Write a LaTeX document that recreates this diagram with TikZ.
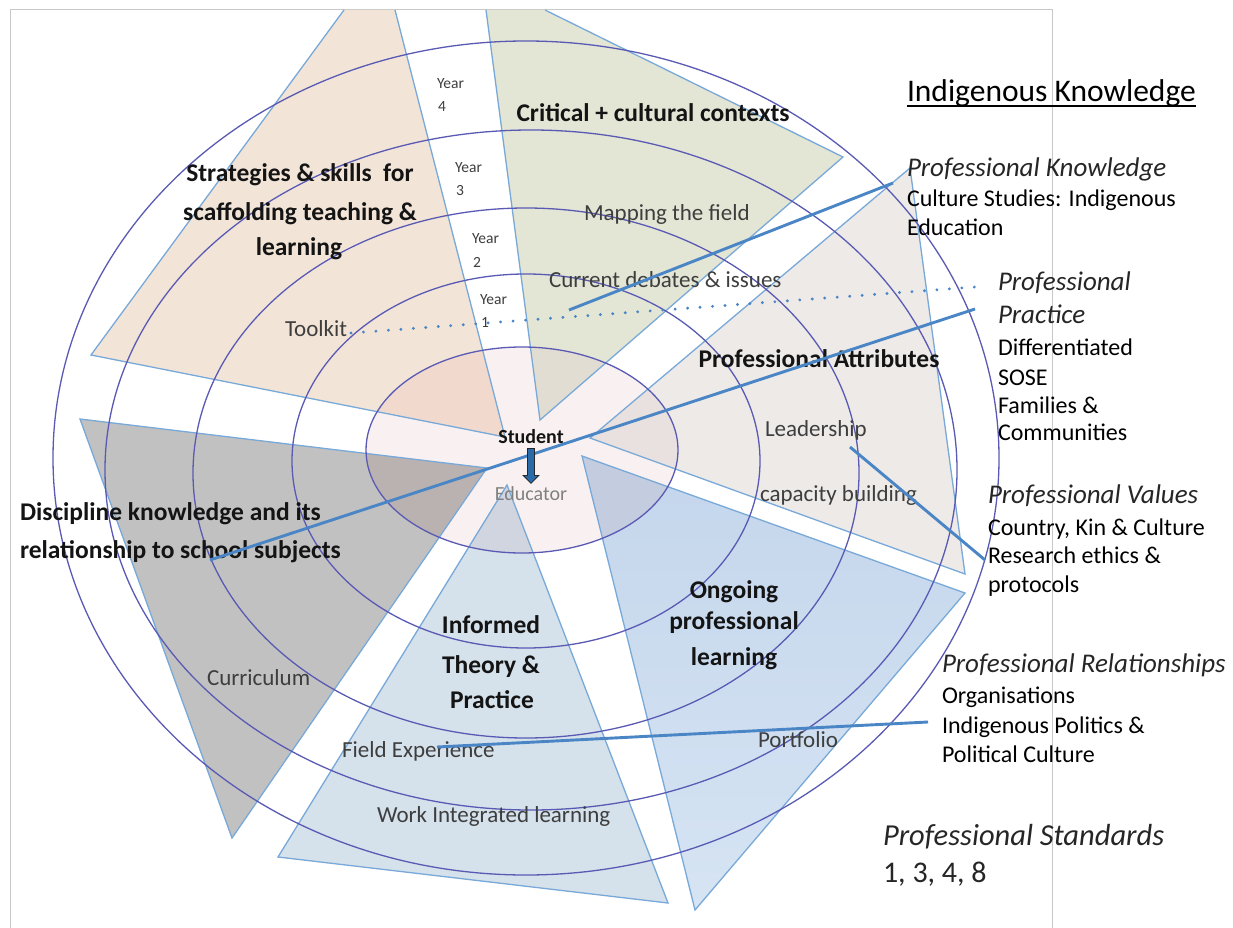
\documentclass[tikz,border=0pt]{standalone}
\usepackage{fontspec}
\setmainfont{Carlito}
\usetikzlibrary{arrows.meta}
\definecolor{framecol}{HTML}{C8C8C8}
\definecolor{ringcol}{HTML}{5A5AB4}
\definecolor{edgecol}{HTML}{78A9D8}
\definecolor{connblue}{HTML}{4A86C5}
\definecolor{arrowblue}{HTML}{2A6AA8}
\definecolor{titlecol}{HTML}{141414}
\definecolor{labcol}{HTML}{3E3E3E}
\definecolor{educol}{HTML}{808080}
\definecolor{cbeige}{HTML}{F2E5D8}
\definecolor{cgreen}{HTML}{E3E5D5}
\definecolor{cattr}{HTML}{EDEAE8}
\definecolor{cdisc}{HTML}{C1C1C1}
\definecolor{cinf}{HTML}{D5E1EB}
\definecolor{congotop}{HTML}{C4D6EC}
\definecolor{congobot}{HTML}{D6E4F3}
\definecolor{cpink}{HTML}{F9F1F1}
\definecolor{ibeige}{HTML}{F1DACD}
\definecolor{igreen}{HTML}{E2DDD2}
\definecolor{iattr}{HTML}{E8E1DF}
\definecolor{idisc}{HTML}{BAB2B0}
\definecolor{iinf}{HTML}{D0D5DF}
\definecolor{iongo}{HTML}{C4CCDF}
\begin{document}
\begin{tikzpicture}[x=1pt,y=-1pt,
  txt/.style={inner sep=0pt, outer sep=0pt},
  title/.style={txt, font=\fontsize{25.5}{30}\selectfont\bfseries, text=titlecol, anchor=base},
  lab/.style={txt, font=\fontsize{23}{28}\selectfont, text=labcol, anchor=base west},
  yearlab/.style={txt, font=\fontsize{15.5}{18}\selectfont, text=labcol, anchor=base west},
  side/.style={txt, font=\fontsize{24}{29}\selectfont, text=black, anchor=base west},
  sidei/.style={txt, font=\fontsize{27}{30}\selectfont\itshape, text=black!85, anchor=base west},
  wedge/.style={draw=edgecol, line width=1.3pt, line join=miter},
  ring/.style={draw=ringcol, line width=1.3pt},
  conn/.style={draw=connblue, line width=2.9pt},
  dotconn/.style={draw=connblue, line width=3.2pt, line cap=round, dash pattern=on 0pt off 12.5pt},
]
\useasboundingbox (0,0) rectangle (1233,928);
\fill[white] (0,0) rectangle (1233,928);
% frame
\draw[framecol, line width=1pt] (10,940) -- (10,10) -- (1052,10) -- (1052,940);

% wedges
\fill[cbeige] (344,10) -- (91,355) -- (505,437) -- (395,10) -- cycle;
\fill[cgreen] (486,10) -- (540,420) -- (843,157) -- (545,10) -- cycle;
\fill[cattr] (590,438) -- (910,168) -- (965,574) -- cycle;
\fill[cdisc] (80,419) -- (487,468) -- (232,838) -- cycle;
\fill[cinf] (507,485) -- (278,857) -- (668,903) -- cycle;
\shade[top color=congotop, bottom color=congobot] (582,456) -- (965,593) -- (695,910) -- cycle;

% inner ellipse tint
\fill[cpink] (522,450) ellipse [x radius=156, y radius=103];
\begin{scope}
  \clip (522,450) ellipse [x radius=156, y radius=103];
  \fill[ibeige] (344,10) -- (91,355) -- (505,437) -- (395,10) -- cycle;
  \fill[igreen] (486,10) -- (540,420) -- (843,157) -- (545,10) -- cycle;
  \fill[iattr] (590,438) -- (910,168) -- (965,574) -- cycle;
  \fill[idisc] (80,419) -- (487,468) -- (232,838) -- cycle;
  \fill[iinf] (507,485) -- (278,857) -- (668,903) -- cycle;
  \fill[iongo] (582,456) -- (965,593) -- (695,910) -- cycle;
\end{scope}

% wedge outlines
\draw[wedge] (344,10) -- (91,355) -- (505,437) -- (395,10);
\draw[wedge] (486,10) -- (540,420) -- (843,157) -- (545,10);
\draw[wedge] (590,438) -- (910,168) -- (965,574) -- cycle;
\draw[wedge] (80,419) -- (487,468) -- (232,838) -- cycle;
\draw[wedge] (507,485) -- (278,857) -- (668,903) -- cycle;
\draw[wedge] (582,456) -- (965,593) -- (695,910) -- cycle;

% rings
\path[ring] (522,450) ellipse [x radius=156, y radius=103];
\path[ring] (526,461) ellipse [x radius=234, y radius=187];
\path[ring] (526,473) ellipse [x radius=333, y radius=265];
\path[ring] (531,470) ellipse [x radius=426, y radius=340];
\path[ring] (526,458) ellipse [x radius=473, y radius=417];

% wedge titles
\node[title] (crit) at (653,122) {Critical + cultural contexts};
\node[title] (strat1) at (300,182) {Strategies \& skills\ \ for};
\node[title] (strat2) at (300,220) {scaffolding teaching \&};
\node[title] (strat3) at (299,255) {learning};
\node[title] (attr) at (819,367) {Professional Attributes};
\node[title, anchor=base west] (disc1) at (20,520) {Discipline knowledge and its};
\node[title, anchor=base west] (disc2) at (20,558) {relationship to school subjects};
\node[title] (inf1) at (491,633) {Informed};
\node[title] (inf2) at (491,673) {Theory \&};
\node[title] (inf3) at (492,708) {Practice};
\node[title] (ong1) at (734,598) {Ongoing};
\node[title] (ong2) at (734,629) {professional};
\node[title] (ong3) at (734,665) {learning};
\node[txt, font=\fontsize{20}{24}\selectfont\bfseries, text=titlecol, anchor=base] (student) at (531,443) {Student};
\node[txt, font=\fontsize{20}{24}\selectfont, text=educol, anchor=base] (educator) at (531,500) {Educator};

% sub labels
\node[lab] (map) at (584,220) {Mapping the field};
\node[lab] (cur) at (549,287) {Current debates \& issues};
\node[lab] (tool) at (285,336) {Toolkit};
\node[lab] (lead) at (765,436) {Leadership};
\node[lab] (cap) at (760,501) {capacity building};
\node[lab] (curr) at (207,685) {Curriculum};
\node[lab] (field) at (342,757) {Field Experience};
\node[lab] (work) at (377,822) {Work Integrated learning};
\node[lab] (port) at (758,747) {Portfolio};

% years
\node[yearlab] (y4a) at (437,89) {Year};
\node[yearlab] (y4b) at (438,112) {4};
\node[yearlab] (y3a) at (455,172) {Year};
\node[yearlab] (y3b) at (456,195) {3};
\node[yearlab] (y2a) at (472,243) {Year};
\node[yearlab] (y2b) at (473,267) {2};
\node[yearlab] (y1a) at (480,304) {Year};
\node[yearlab] (y1b) at (481,327) {1};

% right side
\node[txt, font=\fontsize{31.5}{36}\selectfont, anchor=base west] (ik) at (907,102) {Indigenous Knowledge};
\draw[black, line width=1.4pt] ([yshift=-4pt]ik.base west) -- ([yshift=-4pt]ik.base east);
\node[sidei] (pk1) at (907,177) {Professional Knowledge};
\node[side] (pk2) at (907,207) {Culture Studies: Indigenous};
\node[side] (pk3) at (907,235) {Education};
\node[sidei] (pp1) at (998,290) {Professional};
\node[sidei] (pp2) at (998,323) {Practice};
\node[side] (pp3) at (998,355) {Differentiated};
\node[side] (pp4) at (998,385) {SOSE};
\node[side] (pp5) at (998,413) {Families \&};
\node[side] (pp6) at (998,440) {Communities};
\node[sidei] (pv1) at (988,503) {Professional Values};
\node[side] (pv2) at (988,535) {Country, Kin \& Culture};
\node[side] (pv3) at (988,563) {Research ethics \&};
\node[side] (pv4) at (988,592) {protocols};
\node[sidei] (pr1) at (942,672) {Professional Relationships};
\node[side] (pr2) at (942,703) {Organisations};
\node[side] (pr3) at (942,733) {Indigenous Politics \&};
\node[side] (pr4) at (942,762) {Political Culture};
\node[txt, font=\fontsize{30.5}{36}\selectfont\itshape, text=black!85, anchor=base west] (ps1) at (883,845) {Professional Standards};
\node[txt, font=\fontsize{30}{36}\selectfont, text=black!85, anchor=base west] (ps2) at (883,882) {1, 3, 4, 8};

% connectors
\coordinate (c1a) at (569,310); \coordinate (c1b) at (893,183);
\coordinate (c2a) at (351,333); \coordinate (c2b) at (975,287);
\coordinate (c3a) at (210,560); \coordinate (c3b) at (975,309);
\coordinate (c4a) at (850,447); \coordinate (c4b) at (985,560);
\coordinate (c5a) at (437,747); \coordinate (c5b) at (928,722);
\draw[conn] (c1a) -- (c1b);
\draw[dotconn] (c2a) -- (c2b);
\draw[conn] (c3a) -- (c3b);
\draw[conn] (c4a) -- (c4b);
\draw[conn] (c5a) -- (c5b);

% student -> educator arrow
\coordinate (sa) at (531,448); \coordinate (sb) at (531,484);
\draw[black!85, line width=8pt, -{Triangle[length=9pt,width=17pt]}] (sa) -- (sb);
\draw[arrowblue, line width=5.5pt, shorten <=1pt, shorten >=1.2pt, -{Triangle[length=7pt,width=12.5pt]}] (sa) -- (sb);
\end{tikzpicture}
\end{document}
